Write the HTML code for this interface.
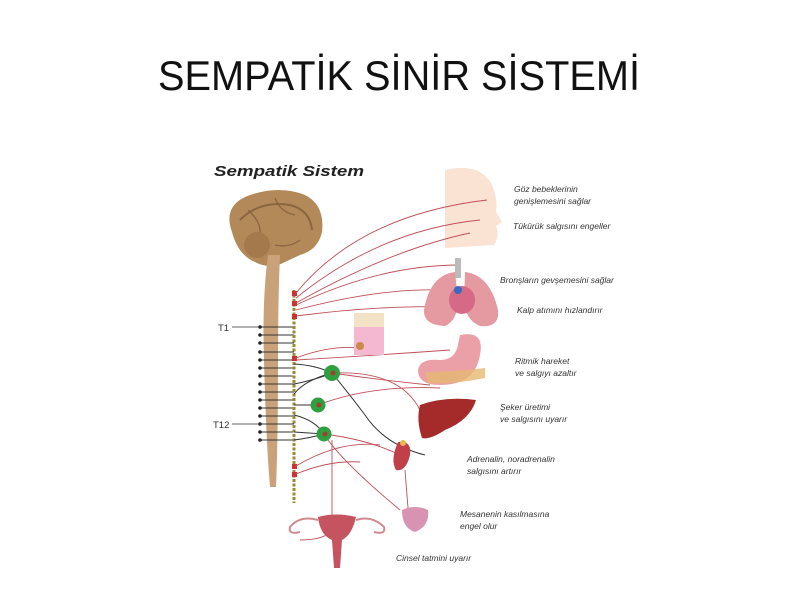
<!DOCTYPE html>
<html><head><meta charset="utf-8"><style>
html,body{margin:0;padding:0;background:#fff;}
svg{display:block}
.l{font-family:"Liberation Sans",sans-serif;font-style:italic;font-size:8.5px;fill:#333}
</style></head><body>
<svg width="800" height="600" viewBox="0 0 800 600" xmlns="http://www.w3.org/2000/svg">
<rect width="800" height="600" fill="#fff"/>
<text x="158" y="90" font-family="Liberation Sans, sans-serif" font-size="42" textLength="482" lengthAdjust="spacingAndGlyphs" fill="#111">SEMPATİK SİNİR SİSTEMİ</text>
<text x="214" y="176" font-family="Liberation Sans, sans-serif" font-weight="bold" font-style="italic" font-size="14.5" fill="#222" textLength="150" lengthAdjust="spacingAndGlyphs">Sempatik Sistem</text>

<!-- face -->
<path d="M445,170 Q480,162 492,185 Q498,200 496,212 L502,222 L496,226 Q500,236 494,245 L445,248 Z" fill="#fbe3d3"/>
<!-- brain -->
<path d="M232,232 Q222,205 250,195 Q280,185 305,195 Q325,205 322,232 Q318,250 300,255 L285,262 Q270,270 255,262 Q238,255 232,232 Z" fill="#b4895a"/>
<path d="M240,220 Q260,200 290,205 Q310,210 312,230" stroke="#8a6540" stroke-width="2" fill="none"/>
<path d="M248,210 Q265,225 258,240 M275,198 Q280,212 295,215 M300,240 Q290,248 275,245" stroke="#8a6540" stroke-width="1.3" fill="none"/>
<circle cx="257" cy="245" r="13" fill="#a47a4d"/>
<!-- spinal cord -->
<path d="M268,255 L280,255 Q278,300 278,360 Q278,440 276,487 L270,487 Q266,440 264,360 Q262,300 268,255 Z" fill="#c9a27a"/>
<!-- segment lines -->
<g stroke="#333" stroke-width="1">
<line x1="260" y1="327" x2="294" y2="327"/><line x1="260" y1="335" x2="294" y2="335"/>
<line x1="260" y1="343" x2="294" y2="343"/><line x1="260" y1="352" x2="294" y2="352"/>
<line x1="260" y1="360" x2="294" y2="360"/><line x1="260" y1="368" x2="294" y2="368"/>
<line x1="260" y1="376" x2="294" y2="376"/><line x1="260" y1="384" x2="294" y2="384"/>
<line x1="260" y1="392" x2="294" y2="392"/><line x1="260" y1="400" x2="294" y2="400"/>
<line x1="260" y1="408" x2="294" y2="408"/><line x1="260" y1="416" x2="294" y2="416"/>
<line x1="260" y1="424" x2="294" y2="424"/><line x1="260" y1="432" x2="294" y2="432"/>
<line x1="260" y1="440" x2="294" y2="440"/>
<line x1="232" y1="327" x2="258" y2="327" stroke="#666"/><line x1="232" y1="424" x2="258" y2="424" stroke="#666"/>
</g>
<g fill="#222">
<circle cx="260" cy="327" r="1.8"/><circle cx="260" cy="335" r="1.8"/><circle cx="260" cy="343" r="1.8"/><circle cx="260" cy="352" r="1.8"/><circle cx="260" cy="360" r="1.8"/><circle cx="260" cy="368" r="1.8"/><circle cx="260" cy="376" r="1.8"/><circle cx="260" cy="384" r="1.8"/><circle cx="260" cy="392" r="1.8"/><circle cx="260" cy="400" r="1.8"/><circle cx="260" cy="408" r="1.8"/><circle cx="260" cy="416" r="1.8"/><circle cx="260" cy="424" r="1.8"/><circle cx="260" cy="432" r="1.8"/><circle cx="260" cy="440" r="1.8"/>
</g>
<text x="218" y="331" font-family="Liberation Sans, sans-serif" font-size="9.5" fill="#333">T1</text>
<text x="213" y="428" font-family="Liberation Sans, sans-serif" font-size="9.5" fill="#333">T12</text>
<!-- chain -->
<line x1="294" y1="290" x2="294" y2="503" stroke="#9a8a30" stroke-width="3" stroke-dasharray="3,1.5"/>
<g fill="#d03030"><rect x="292" y="291" width="5" height="5"/><rect x="292" y="301" width="5" height="5"/><rect x="292" y="314" width="5" height="5"/><rect x="292" y="356" width="5" height="5"/><rect x="292" y="464" width="5" height="5"/><rect x="292" y="472" width="5" height="5"/></g>
<!-- black connectors -->
<g stroke="#333" stroke-width="1" fill="none">
<path d="M294,364 Q315,365 332,373"/><path d="M294,384 Q315,380 332,373"/>
<path d="M294,394 Q305,380 332,373"/><path d="M294,405 L318,405"/>
<path d="M294,415 Q315,420 324,434"/><path d="M294,432 L324,434"/><path d="M294,440 Q310,438 324,434"/>
<path d="M332,373 Q350,395 365,415 Q385,445 425,455"/>
</g>
<!-- red nerves -->
<g stroke="#c0505a" stroke-width="0.9" fill="none">
<path d="M296,293 Q360,215 487,200"/><path d="M296,298 Q380,230 480,220"/>
<path d="M296,303 Q390,250 470,233"/><path d="M296,305 Q380,265 460,265"/>
<path d="M296,310 Q380,288 440,290"/><path d="M296,316 Q380,305 450,307"/>
<path d="M296,358 Q330,345 360,348"/><path d="M296,360 Q380,355 450,350"/>
<path d="M332,373 Q380,380 430,385"/><path d="M318,405 Q370,385 440,388"/>
<path d="M332,373 Q400,370 420,410"/><path d="M324,434 Q370,440 400,455"/>
<path d="M296,466 Q340,440 380,445"/><path d="M296,474 Q330,460 360,462"/>
<path d="M324,434 Q340,460 400,510"/><path d="M332,440 L332,530 Q325,540 300,540"/>
<path d="M405,470 L408,508"/>
</g>
<!-- ganglia -->
<g fill="#2fa040"><circle cx="332" cy="373" r="8"/><circle cx="318" cy="405" r="7.5"/><circle cx="324" cy="434" r="7.5"/></g>
<g fill="#a04030"><circle cx="333" cy="373" r="2.5"/><circle cx="319" cy="405" r="2.5"/><circle cx="325" cy="434" r="2.5"/></g>
<!-- lungs -->
<rect x="455" y="258" width="6" height="20" fill="#bbb"/>
<path d="M455,272 Q430,275 424,310 Q423,325 445,326 Q458,320 458,300 Z" fill="#e49aa0"/>
<path d="M465,272 Q490,275 498,310 Q500,328 480,326 Q465,320 464,300 Z" fill="#e49aa0"/>
<ellipse cx="462" cy="300" rx="13" ry="14" fill="#d66a86"/>
<circle cx="458" cy="290" r="4" fill="#3a6ac0"/>
<!-- skin -->
<rect x="354" y="313" width="30" height="14" fill="#f3e2c6"/>
<rect x="354" y="327" width="30" height="28" fill="#f4b8d0"/>
<circle cx="360" cy="346" r="4" fill="#c98a4a"/>
<!-- stomach -->
<path d="M460,335 Q485,330 480,355 Q475,385 440,385 Q418,385 418,370 Q420,358 440,360 Q455,360 458,345 Z" fill="#eba0a8"/>
<path d="M425,372 Q450,372 485,368 L485,378 Q450,385 428,383 Z" fill="#e6b870" opacity="0.8"/>
<!-- liver -->
<path d="M420,405 Q445,396 476,400 Q470,420 445,430 Q430,440 422,438 Q416,420 420,405 Z" fill="#a52a2a"/>
<!-- kidney -->
<path d="M398,442 Q412,440 410,455 Q406,472 396,470 Q390,460 398,442 Z" fill="#c0404a"/>
<circle cx="403" cy="443" r="3" fill="#e8b850"/>
<!-- bladder -->
<path d="M402,510 Q415,504 428,510 Q430,526 415,532 Q402,528 402,510 Z" fill="#d993b2"/>
<!-- uterus -->
<path d="M318,517 Q336,512 356,517 Q352,535 342,540 L340,568 L334,568 L332,540 Q320,535 318,517 Z" fill="#c65460"/>
<path d="M318,520 Q300,515 290,527 Q288,535 300,532 M356,520 Q372,515 384,527 Q386,535 374,532" stroke="#d08a90" stroke-width="2" fill="none"/>
<!-- labels -->
<text class="l" x="514" y="192">Göz bebeklerinin</text>
<text class="l" x="514" y="204">genişlemesini sağlar</text>
<text class="l" x="513" y="229">Tükürük salgısını engeller</text>
<text class="l" x="500" y="283">Bronşların gevşemesini sağlar</text>
<text class="l" x="517" y="313">Kalp atımını hızlandırır</text>
<text class="l" x="515" y="364">Ritmik hareket</text>
<text class="l" x="515" y="376">ve salgıyı azaltır</text>
<text class="l" x="500" y="410">Şeker üretimi</text>
<text class="l" x="500" y="422">ve salgısını  uyarır</text>
<text class="l" x="467" y="462">Adrenalin, noradrenalin</text>
<text class="l" x="467" y="474">salgısını  artırır</text>
<text class="l" x="460" y="517">Mesanenin kasılmasına</text>
<text class="l" x="460" y="529">engel olur</text>
<text class="l" x="396" y="561">Cinsel tatmini uyarır</text>
</svg>
</body></html>
